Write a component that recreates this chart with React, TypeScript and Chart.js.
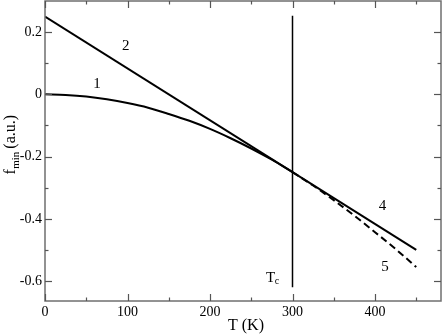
import React, { useEffect, useRef } from "react";
import { Chart, registerables } from "chart.js";

Chart.register(...registerables);

// Straight line "2" continuing as "4"
const lineT = [0, 450];
const lineF = [0.25, -0.5];
// Curve "1" (solid, up to Tc)
const curve1T = [0, 25, 50, 75, 100, 125, 150, 175, 200, 225, 250, 275, 300];
const curve1F = [0, -0.002, -0.007, -0.016, -0.028, -0.043, -0.063, -0.085, -0.111, -0.141, -0.174, -0.21, -0.25];
// Curve "5" (dashed, above Tc)
const curve5T = [300, 325, 350, 375, 400, 425, 450];
const curve5F = [-0.25, -0.293, -0.34, -0.39, -0.443, -0.497, -0.555];
// Tc vertical line
const tcT = [300, 300];
const tcF = [0.253, -0.62];

const xTicks = [0, 100, 200, 300, 400];
const xMinor = [50, 150, 250, 350, 450];
const yTicks = [-0.6, -0.4, -0.2, 0, 0.2];
const yMinor = [-0.5, -0.3, -0.1, 0.1];

const curveLabels = [
  { text: "1", t: 63, f: 0.032 },
  { text: "2", t: 98, f: 0.154 },
  { text: "4", t: 409, f: -0.36 },
  { text: "5", t: 412, f: -0.556 },
];

const FONT = "'Liberation Serif', 'Times New Roman', serif";

const toPts = (xs: number[], ys: number[]) => xs.map((x, i) => ({ x, y: ys[i] }));

export default function App() {
  const ref = useRef<HTMLCanvasElement>(null);
  useEffect(() => {
    document.body.style.margin = "0";
    const canvas = ref.current!;
    const decor = {
      id: "decor",
      afterDraw(chart: any) {
        const ctx = chart.ctx;
        const { left, right, top, bottom } = chart.chartArea;
        const xs = chart.scales.x;
        const ys = chart.scales.y;
        ctx.save();
        // frame
        ctx.strokeStyle = "#6f6f6f";
        ctx.lineWidth = 1.5;
        ctx.strokeRect(left, top, right - left, bottom - top);
        // ticks
        ctx.strokeStyle = "#555";
        ctx.lineWidth = 1.2;
        const tick = (x1: number, y1: number, x2: number, y2: number) => {
          ctx.beginPath();
          ctx.moveTo(x1, y1);
          ctx.lineTo(x2, y2);
          ctx.stroke();
        };
        xTicks.forEach((v) => {
          const p = Math.round(xs.getPixelForValue(v)) + 0.5;
          tick(p, bottom, p, bottom - 7);
          tick(p, top, p, top + 7);
        });
        xMinor.forEach((v) => {
          const p = Math.round(xs.getPixelForValue(v)) + 0.5;
          tick(p, bottom, p, bottom - 3.5);
          tick(p, top, p, top + 3.5);
        });
        yTicks.forEach((v) => {
          const p = Math.round(ys.getPixelForValue(v)) + 0.5;
          tick(left, p, left + 7, p);
          tick(right, p, right - 7, p);
        });
        yMinor.forEach((v) => {
          const p = Math.round(ys.getPixelForValue(v)) + 0.5;
          tick(left, p, left + 3.5, p);
          tick(right, p, right - 3.5, p);
        });
        // curve labels
        ctx.fillStyle = "#000";
        ctx.textAlign = "center";
        ctx.textBaseline = "middle";
        ctx.font = `15px ${FONT}`;
        curveLabels.forEach((l) => {
          ctx.fillText(l.text, xs.getPixelForValue(l.t), ys.getPixelForValue(l.f));
        });
        // Tc label
        const tx = xs.getPixelForValue(268);
        const ty = ys.getPixelForValue(-0.588);
        ctx.textAlign = "left";
        ctx.textBaseline = "alphabetic";
        ctx.font = `15px ${FONT}`;
        ctx.fillText("T", tx, ty + 5);
        const tw = ctx.measureText("T").width;
        ctx.font = `10px ${FONT}`;
        ctx.fillText("c", tx + tw - 0.5, ty + 7);
        // x title
        ctx.font = `16px ${FONT}`;
        ctx.textAlign = "center";
        ctx.fillText("T (K)", (left + right) / 2 + 3, 330);
        // y title
        ctx.translate(15, (top + bottom) / 2 - 6);
        ctx.rotate(-Math.PI / 2);
        ctx.font = `16px ${FONT}`;
        const fW = ctx.measureText("f").width;
        ctx.font = `11px ${FONT}`;
        const mW = ctx.measureText("min").width + 3;
        ctx.font = `16px ${FONT}`;
        const rest = "(a.u.)";
        const rW = ctx.measureText(rest).width;
        const total = fW + mW + rW;
        let cx = -total / 2;
        ctx.textAlign = "left";
        ctx.fillText("f", cx, 0);
        cx += fW + 0.5;
        ctx.font = `11px ${FONT}`;
        ctx.fillText("min", cx, 4);
        cx += mW;
        ctx.font = `16px ${FONT}`;
        ctx.fillText(rest, cx, 0);
        ctx.restore();
      },
    };
    const chart = new Chart(canvas, {
      type: "scatter",
      data: {
        datasets: [
          {
            data: toPts(lineT, lineF),
            showLine: true,
            borderColor: "#000",
            borderWidth: 2,
            pointRadius: 0,
          },
          {
            data: toPts(curve1T, curve1F),
            showLine: true,
            borderColor: "#000",
            borderWidth: 2,
            pointRadius: 0,
            cubicInterpolationMode: "monotone",
          },
          {
            data: toPts(curve5T, curve5F),
            showLine: true,
            borderColor: "#000",
            borderWidth: 2,
            borderDash: [7, 4],
            pointRadius: 0,
            cubicInterpolationMode: "monotone",
          },
          {
            data: toPts(tcT, tcF),
            showLine: true,
            borderColor: "#000",
            borderWidth: 1.5,
            pointRadius: 0,
          },
        ],
      },
      options: {
        animation: false,
        responsive: false,
        devicePixelRatio: 1,
        layout: { padding: { top: 1, right: 2, left: 0, bottom: 0 } },
        plugins: { legend: { display: false }, tooltip: { enabled: false } },
        scales: {
          x: {
            type: "linear",
            min: 0,
            max: 480,
            grid: { display: false, drawTicks: false },
            border: { display: false },
            afterFit: (s: any) => {
              s.height = 34;
              s.paddingLeft = 0;
              s.paddingRight = 0;
            },
            afterBuildTicks: (s: any) => {
              s.ticks = xTicks.map((v) => ({ value: v }));
            },
            ticks: {
              padding: 3,
              color: "#000",
              font: { family: FONT, size: 14 },
              maxRotation: 0,
              callback: (v: any) => String(v),
            },
          },
          y: {
            type: "linear",
            min: -0.664,
            max: 0.3,
            grid: { display: false, drawTicks: false },
            border: { display: false },
            afterFit: (s: any) => {
              s.width = 45;
              s.paddingTop = 0;
              s.paddingBottom = 0;
            },
            afterBuildTicks: (s: any) => {
              s.ticks = yTicks.map((v) => ({ value: v }));
            },
            ticks: {
              padding: 3,
              color: "#000",
              font: { family: FONT, size: 14 },
              callback: (v: any) => {
                const n = Math.round(Number(v) * 10) / 10;
                return n === 0 ? "0" : String(n);
              },
            },
          },
        },
      },
      plugins: [decor],
    } as any);
    return () => chart.destroy();
  }, []);
  return <canvas ref={ref} width={443} height={335} style={{ display: "block" }} />;
}
